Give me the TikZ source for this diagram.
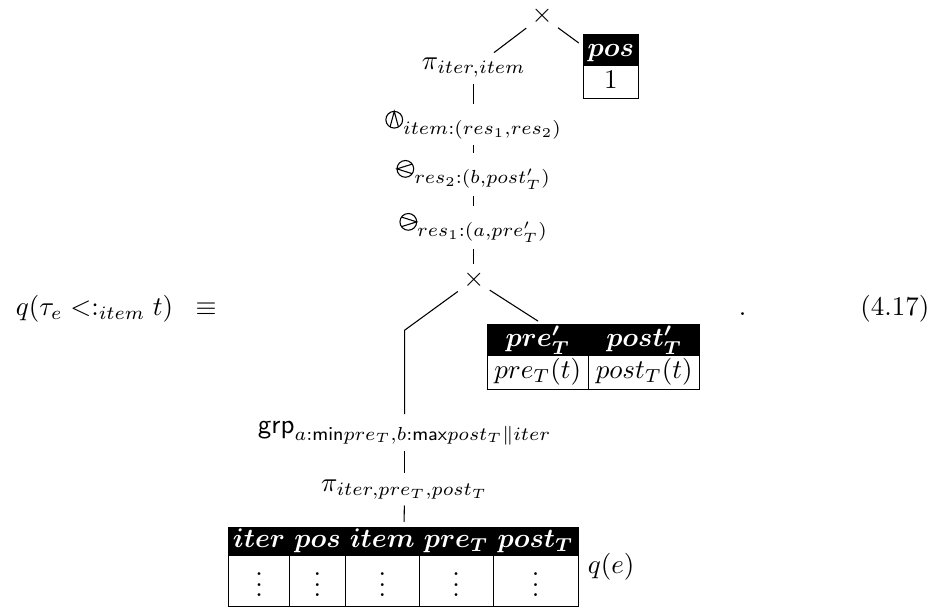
\documentclass[tikz,border=0pt]{standalone}
\usepackage{amsmath, amssymb}
\usepackage{colortbl}
\usepackage{tikz}
\usetikzlibrary{positioning}

\newcommand{\hd}[1]{\textcolor{white}{$\boldsymbol{#1}$}}
\newcommand{\opwedge}{\tikz[baseline={(0,-3.6pt)}, line width=0.4pt]{\draw (0,0) circle (3.1pt); \draw (-120:3.1pt) -- (90:3.1pt) -- (-60:3.1pt);}}
\newcommand{\opless}{\tikz[baseline={(0,-3.6pt)}, line width=0.4pt]{\draw (0,0) circle (3.1pt); \draw (35:3.1pt) -- (180:3.1pt) -- (-35:3.1pt);}}
\newcommand{\opmore}{\tikz[baseline={(0,-3.6pt)}, line width=0.4pt]{\draw (0,0) circle (3.1pt); \draw (145:3.1pt) -- (0:3.1pt) -- (-145:3.1pt);}}

\begin{document}
\begin{tikzpicture}[
    op/.style={inner sep=1pt},
    tbl/.style={inner sep=0pt, anchor=north west},
    plain/.style={inner sep=0pt},
    link/.style={line width=0.4pt, shorten <=1pt, shorten >=1.5pt},
  ]
    \useasboundingbox (0,0) rectangle (12.19,-7.94);
    \node[plain, anchor=base west] (lhs) at (0.20,-4.11) {$q(\tau_e \mathrel{<:_{item}} t)\;\;\equiv$};
    \node[op] (cross1) at (7.06,-0.21) {$\times$};
    \node[tbl] (posT) at (7.58,-0.43) {\setlength\tabcolsep{1.5pt}%
      \begin{tabular}{|c|}\rowcolor{black}\hd{pos}\\ 1\\\hline\end{tabular}};
    \node[op] (proj1)  at (6.17,-0.885) {$\pi_{iter,item}$};
    \node[op] (rnItem) at (6.17,-1.627) {$\opwedge_{item:(res_1,res_2)}$};
    \node[op] (rnRes2) at (6.17,-2.278) {$\opless_{res_2:(b,post'_T)}$};
    \node[op] (rnRes1) at (6.17,-2.968) {$\opmore_{res_1:(a,pre'_T)}$};
    \node[op] (cross2) at (6.17,-3.645) {$\times$};
    \node[tbl] (prepost) at (6.33,-4.21) {\setlength\tabcolsep{2.5pt}%
      \begin{tabular}{|c|c|}\rowcolor{black}\hd{pre'_T}&\hd{post'_T}\\
        $pre_T(t)$&$post_T(t)$\\\hline\end{tabular}};
    \coordinate (bend) at (5.27,-4.30);
    \node[op] (grp)   at (5.27,-5.64) {$\mathsf{grp}_{a:\mathsf{min}pre_T,b:\mathsf{max}post_T\|iter}$};
    \node[op] (proj2) at (5.27,-6.38) {$\pi_{iter,pre_T,post_T}$};
    \node[tbl] (qtab) at (2.96,-6.85) {\setlength\tabcolsep{1.5pt}\renewcommand\arraystretch{0.92}%
      \begin{tabular}{|c|c|c|c|c|}\rowcolor{black}\hd{iter}&\hd{pos}&\hd{item}&\hd{pre_T}&\hd{post_T}\\
        $\vdots$&$\vdots$&$\vdots$&$\vdots$&$\vdots$\\\hline\end{tabular}};
    \node[plain, right=3pt of qtab] (qe) {$q(e)$};
    \node[plain, anchor=base] (dot) at (9.67,-4.11) {.};
    \node[plain, anchor=base east] (eqno) at (12.11,-4.11) {(4.17)};
    \draw[link] (cross1) -- (proj1);
    \draw[link] (cross1) -- (posT);
    \draw[link] (proj1) -- (rnItem);
    \draw[link] (rnItem) -- (rnRes2);
    \draw[link] (rnRes2) -- (rnRes1);
    \draw[link] (rnRes1) -- (cross2);
    \draw[link] (cross2) -- (prepost);
    \draw[link] (cross2) -- (bend) -- (grp);
    \draw[link] (grp) -- (proj2);
    \draw[link] (proj2) -- (qtab);
  \end{tikzpicture}
\end{document}
